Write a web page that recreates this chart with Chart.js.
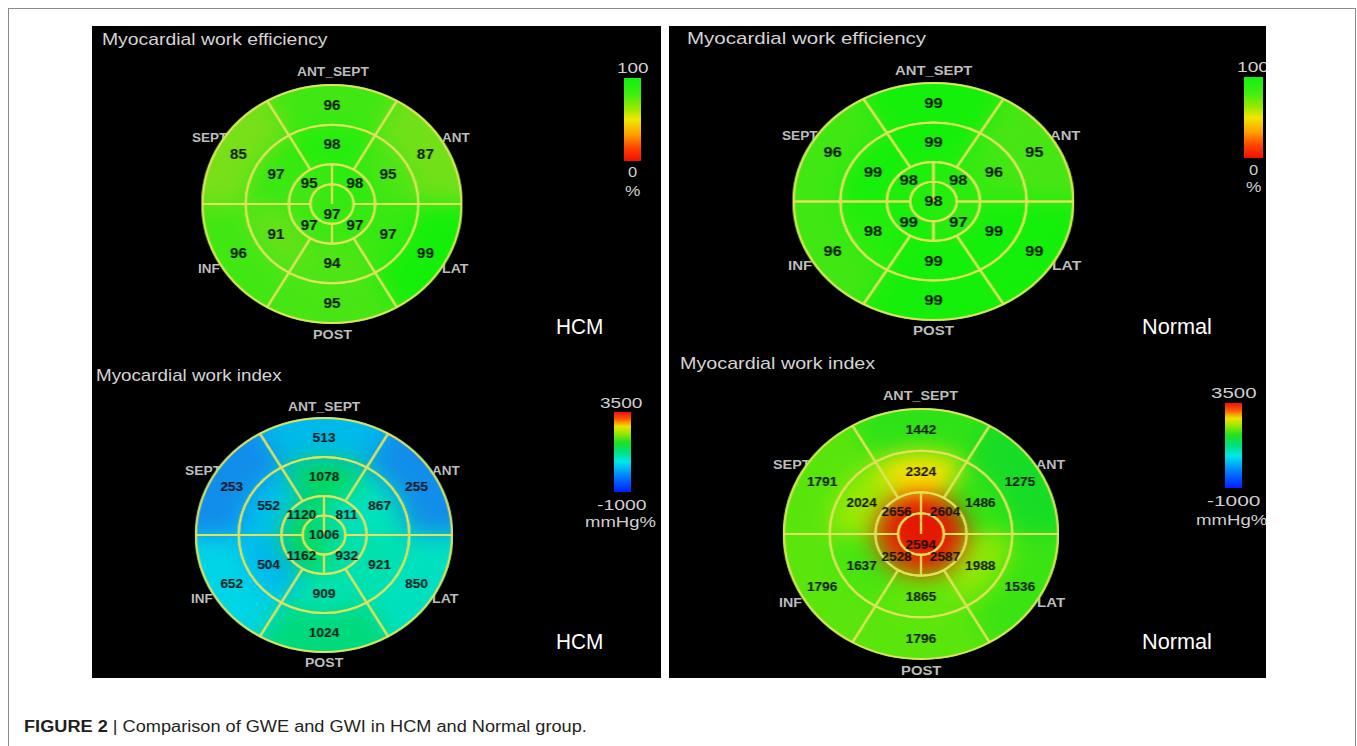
<!DOCTYPE html>
<html>
<head>
<meta charset="utf-8">
<title>GWE and GWI bull's-eye plots</title>
<script src="https://cdn.jsdelivr.net/npm/chart.js@4.4.1/dist/chart.umd.min.js"></script>
<style>
  body { margin: 0; width: 1357px; height: 746px; background: #fff; position: relative; overflow: hidden; font-family: "Liberation Sans", Arial, sans-serif; }
  #frame { position: absolute; left: 8px; top: 8px; width: 1348px; height: 800px; border: 1px solid #8a8a8a; box-sizing: border-box; }
  .panel { position: absolute; top: 26px; height: 652px; background: #000; overflow: hidden; }
  .txt { position: absolute; white-space: nowrap; line-height: 1; transform-origin: 0 50%; }
  .title { color: #d4d4d4; font-size: 17px; }
  .region { color: #bdbdbd; font-size: 12.5px; font-weight: bold; }
  .scale { color: #d0d0d0; font-size: 15px; }
  .group { color: #fff; font-size: 22px; }
  .caption { color: #231f20; font-size: 16px; }
  .bar { position: absolute; }
  .eye { position: absolute; }
  .eye canvas { position: absolute; left: 0; top: 0; }
</style>
</head>
<body>
<div id="frame"></div>
<div class="panel" id="left" style="left:92px;width:569px"></div>
<div class="panel" id="right" style="left:669px;width:597px"></div>
<script>
// segment values run clockwise from the top (ANT_SEPT); the apical ring starts at the upper-right quarter
const regions = ['ANT_SEPT', 'ANT', 'LAT', 'POST', 'INF', 'SEPT'];

const hcmGweBasal = [96, 87, 99, 95, 96, 85];
const hcmGweMid = [98, 95, 97, 94, 91, 97];
const hcmGweApical = [98, 97, 97, 95];
const hcmGweApex = [97];

const normalGweBasal = [99, 95, 99, 99, 96, 96];
const normalGweMid = [99, 96, 99, 99, 98, 99];
const normalGweApical = [98, 97, 99, 98];
const normalGweApex = [98];

const hcmGwiBasal = [513, 255, 850, 1024, 652, 253];
const hcmGwiMid = [1078, 867, 921, 909, 504, 552];
const hcmGwiApical = [811, 932, 1162, 1120];
const hcmGwiApex = [1006];

const normalGwiBasal = [1442, 1275, 1536, 1796, 1796, 1791];
const normalGwiMid = [2324, 1486, 1988, 1865, 1637, 2024];
const normalGwiApical = [2604, 2587, 2528, 2656];
const normalGwiApex = [2594];

const gweRange = [0, 100];
const gwiRange = [-1000, 3500];
const gweTicks = ['100', '0', '%'];
const gwiTicks = ['3500', '-1000', 'mmHg%'];
const groups = ['HCM', 'Normal'];
const titles = ['Myocardial work efficiency', 'Myocardial work index'];

// colour maps (fraction of range -> rgb)
const gweStops = [[0, [255, 0, 0]], [0.3, [255, 140, 0]], [0.6, [235, 230, 0]], [0.85, [120, 224, 25]],
  [0.91, [100, 226, 25]], [0.95, [72, 230, 20]], [0.97, [55, 233, 17]], [0.98, [35, 238, 12]],
  [0.99, [20, 240, 10]], [1, [0, 240, 0]]];
const gwiStops = [[0, [0, 0, 200]], [0.2, [0, 90, 255]], [0.27, [20, 135, 235]], [0.33, [0, 180, 235]],
  [0.38, [0, 225, 230]], [0.43, [0, 225, 170]], [0.46, [0, 215, 100]], [0.5, [20, 220, 40]],
  [0.55, [50, 228, 20]], [0.64, [100, 230, 10]], [0.69, [190, 235, 0]], [0.74, [250, 225, 0]],
  [0.77, [245, 90, 0]], [0.79, [230, 25, 0]], [1, [200, 0, 0]]];
const gweBar = 'linear-gradient(to bottom,#10f010 0%,#40ee10 20%,#a0e800 38%,#f0e800 50%,#ffa000 68%,#ff4000 85%,#f01000 100%)';
const gwiBar = 'linear-gradient(to bottom,#f01010 0%,#ff5000 8%,#f0e000 18%,#a0e800 26%,#20e020 38%,#00e080 50%,#00e8e8 62%,#0080ff 80%,#0020ff 100%)';

function colorAt(stops, t) {
  t = Math.max(0, Math.min(1, t));
  for (let i = 1; i < stops.length; i++) {
    if (t <= stops[i][0]) {
      const [t0, c0] = stops[i - 1], [t1, c1] = stops[i];
      const f = (t - t0) / (t1 - t0);
      return 'rgb(' + c0.map((c, k) => Math.round(c + (c1[k] - c) * f)).join(',') + ')';
    }
  }
  return 'rgb(' + stops[stops.length - 1][1].join(',') + ')';
}

// soften the segment colours like the echo software's interpolated map
const smooth = {
  id: 'smooth',
  afterDatasetsDraw(chart, args, opts) {
    const c = chart.canvas, ctx = chart.ctx;
    const copy = document.createElement('canvas');
    copy.width = c.width; copy.height = c.height;
    copy.getContext('2d').drawImage(c, 0, 0);
    ctx.save();
    ctx.setTransform(1, 0, 0, 1, 0, 0);
    ctx.globalCompositeOperation = 'source-atop';
    ctx.filter = 'blur(' + opts.radius + 'px)';
    ctx.drawImage(copy, 0, 0);
    ctx.drawImage(copy, 0, 0);
    ctx.restore();
  }
};

const valueLabels = {
  id: 'valueLabels',
  afterDatasetsDraw(chart, args, opts) {
    const ctx = chart.ctx;
    ctx.save();
    ctx.font = opts.font;
    ctx.fillStyle = '#101010';
    ctx.textAlign = 'center';
    ctx.textBaseline = 'middle';
    chart.data.datasets.forEach((ds, i) => {
      chart.getDatasetMeta(i).data.forEach((arc, j) => {
        const p = arc.innerRadius === 0 ? { x: arc.x, y: arc.y } : arc.tooltipPosition();
        ctx.fillText(ds.values[j], p.x, p.y + 1);
      });
    });
    ctx.restore();
  }
};

function ringSets(rings, toColor, overlay) {
  const weights = [2, 2, 1, 1];   // basal, mid, apical, apex
  const starts = [-30, -30, 0, 0];
  return rings.map((vals, i) => ({
    data: vals.map(() => 1),
    values: vals,
    weight: weights[i],
    rotation: starts[i],
    backgroundColor: overlay ? 'rgba(0,0,0,0)' : vals.map(toColor),
    borderColor: overlay ? '#e2e25c' : vals.map(toColor),
    borderWidth: 2
  }));
}

function baseOptions(extra) {
  return {
    responsive: false,
    animation: false,
    events: [],
    cutout: 0,
    layout: { padding: 0 },
    plugins: Object.assign({ legend: { display: false }, tooltip: { enabled: false } }, extra)
  };
}

function bullseye(panel, ox, cx, cy, rx, ry, rings, stops, range, font) {
  const size = 2 * ry + 2;
  const wrap = document.createElement('div');
  wrap.className = 'eye';
  wrap.style.left = (cx - ox - size / 2) + 'px';
  wrap.style.top = (cy - 26 - size / 2) + 'px';
  wrap.style.width = size + 'px';
  wrap.style.height = size + 'px';
  wrap.style.transform = 'scaleX(' + (rx / ry) + ')';
  panel.appendChild(wrap);
  const fill = document.createElement('canvas');
  const lines = document.createElement('canvas');
  [fill, lines].forEach(c => { c.width = size; c.height = size; wrap.appendChild(c); });
  const toColor = v => colorAt(stops, (v - range[0]) / (range[1] - range[0]));
  new Chart(fill, {
    type: 'doughnut',
    data: { datasets: ringSets(rings, toColor, false) },
    options: baseOptions({ smooth: { radius: 11 } }),
    plugins: [smooth]
  });
  new Chart(lines, {
    type: 'doughnut',
    data: { datasets: ringSets(rings, toColor, true) },
    options: baseOptions({ valueLabels: { font: font } }),
    plugins: [valueLabels]
  });
}

function put(parent, ox, html, x0, x1, y, cls) {
  const el = document.createElement('div');
  el.className = 'txt ' + cls;
  el.innerHTML = html;
  parent.appendChild(el);
  const w = el.offsetWidth, h = el.offsetHeight;
  el.style.left = (x0 - ox) + 'px';
  el.style.top = (y - 26 - h / 2) + 'px';
  el.style.transform = 'scaleX(' + ((x1 - x0) / w) + ')';
}

function colorbar(parent, ox, b, ticks, grad, t) {
  const bar = document.createElement('div');
  bar.className = 'bar';
  bar.style.left = (b[0] - ox) + 'px';
  bar.style.top = (b[2] - 26) + 'px';
  bar.style.width = (b[1] - b[0]) + 'px';
  bar.style.height = (b[3] - b[2]) + 'px';
  bar.style.background = grad;
  parent.appendChild(bar);
  ticks.forEach((tk, i) => put(parent, ox, tk, t[i][0], t[i][1], t[i][2], 'scale'));
}

const left = document.getElementById('left');
const right = document.getElementById('right');

// layout of the four panels (page pixels)
const plots = [
  { parent: left, ox: 92, c: [332, 204, 129.5, 119], rings: [hcmGweBasal, hcmGweMid, hcmGweApical, hcmGweApex],
    stops: gweStops, range: gweRange, font: 'bold 14px "Liberation Sans", Arial', title: [titles[0], 101.6, 327, 39.7],
    regions: [[296.5, 368, 72.7], [442, 470, 138.3], [442, 468, 269.3], [313, 352, 335], [198, 219.5, 269.3], [191.8, 227.5, 138.3]],
    bar: [623.5, 641, 78.3, 160.7], ticks: gweTicks, grad: gweBar, tickPos: [[616.5, 648, 67.7], [627.6, 636.4, 171.7], [624.5, 639.5, 190.7]],
    group: [groups[0], 555.5, 602.7, 326.7] },
  { parent: right, ox: 669, c: [934, 201.5, 140, 118.7], rings: [normalGweBasal, normalGweMid, normalGweApical, normalGweApex],
    stops: gweStops, range: gweRange, font: 'bold 14px "Liberation Sans", Arial', title: [titles[0], 687, 926, 38.7],
    regions: [[895, 972, 71], [1050, 1080.7, 136], [1052, 1080.7, 266.7], [913, 954, 331.7], [788, 812, 266.7], [782, 818, 136]],
    bar: [1244, 1262.7, 76.7, 158.3], ticks: gweTicks, grad: gweBar, tickPos: [[1237, 1269, 66.7], [1248.6, 1257.4, 169], [1245.5, 1260.5, 186.7]],
    group: [groups[1], 1142, 1212, 327] },
  { parent: left, ox: 92, c: [324, 535, 128, 117], rings: [hcmGwiBasal, hcmGwiMid, hcmGwiApical, hcmGwiApex],
    stops: gwiStops, range: gwiRange, font: 'bold 12.5px "Liberation Sans", Arial', title: [titles[1], 95.5, 281, 375],
    regions: [[288, 360, 407.3], [432, 460, 471], [432, 458, 599.3], [304.5, 342.7, 663.3], [191, 212.5, 599.3], [184.5, 221, 471]],
    bar: [613.6, 630.7, 412.3, 492.3], ticks: gwiTicks, grad: gwiBar, tickPos: [[600, 642, 402.7], [596.5, 645.6, 504], [585, 656.5, 521.7]],
    group: [groups[0], 555.5, 602.7, 642.3] },
  { parent: right, ox: 669, c: [921, 534, 137, 125], rings: [normalGwiBasal, normalGwiMid, normalGwiApical, normalGwiApex],
    stops: gwiStops, range: gwiRange, font: 'bold 12.5px "Liberation Sans", Arial', title: [titles[1], 680, 875, 363.3],
    regions: [[883.4, 958, 396.7], [1036, 1065.4, 465.7], [1037, 1064.6, 603.3], [900.6, 941, 671], [779, 801.8, 603.3], [773, 811, 465.7]],
    bar: [1225, 1242.4, 402.7, 488.3], ticks: gwiTicks, grad: gwiBar, tickPos: [[1211, 1256, 392.3], [1207, 1260, 500], [1196, 1268, 519]],
    group: [groups[1], 1142, 1212, 642.3] }
];

plots.forEach(p => {
  put(p.parent, p.ox, p.title[0], p.title[1], p.title[2], p.title[3], 'title');
  regions.forEach((r, i) => put(p.parent, p.ox, r, p.regions[i][0], p.regions[i][1], p.regions[i][2], 'region'));
  colorbar(p.parent, p.ox, p.bar, p.ticks, p.grad, p.tickPos);
  put(p.parent, p.ox, p.group[0], p.group[1], p.group[2], p.group[3], 'group');
  bullseye(p.parent, p.ox, p.c[0], p.c[1], p.c[2], p.c[3], p.rings, p.stops, p.range, p.font);
});

put(document.body, 0, '<b>FIGURE 2</b> <span style="font-weight:300">|</span> Comparison of GWE and GWI in HCM and Normal group.',
  24, 587, 753, 'caption');
</script>
</body>
</html>
